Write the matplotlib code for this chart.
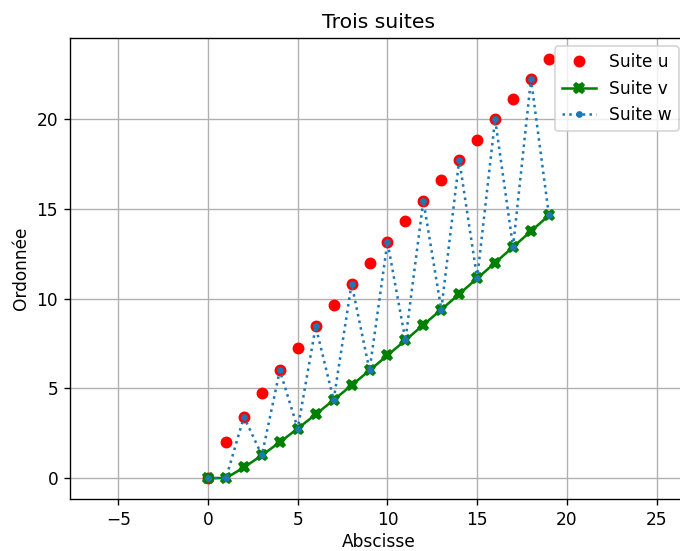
import matplotlib.pyplot as plt
import numpy as np

# indices of the sequences
n = list(range(20))

# values
u = [0, 2, 3.41, 4.73, 6, 7.24, 8.45, 9.65, 10.83, 12,
     13.16, 14.32, 15.46, 16.61, 17.74, 18.87, 20, 21.12, 22.24, 23.36]
v = [0, 0, 0.59, 1.27, 2, 2.76, 3.55, 4.35, 5.17, 6,
     6.84, 7.68, 8.54, 9.39, 10.26, 11.13, 12, 12.88, 13.76, 14.64]
w = [0, 0, 3.41, 1.27, 6, 2.76, 8.45, 4.35, 10.83, 6,
     13.16, 7.68, 15.46, 9.39, 17.74, 11.13, 20, 12.88, 22.24, 14.64]

dpi = 122
fig = plt.figure(figsize=(680/dpi, 551/dpi), dpi=dpi)
ax = fig.add_axes([70/680, 52/551, 617/680, 461/551])

ax.plot(n, u, 'o', color='red', label='Suite u')
ax.plot(n, v, marker='X', color='green', label='Suite v')
ax.plot(n, w, marker='.', linestyle=':', label='Suite w')

ax.axis('equal')
ax.set_title("Trois suites")
ax.set_xlabel("Abscisse", labelpad=2.5)
ax.set_ylabel("Ordonnée")
ax.grid(True)
ax.legend(loc='upper right')

fig.savefig('out.png', dpi=dpi)
